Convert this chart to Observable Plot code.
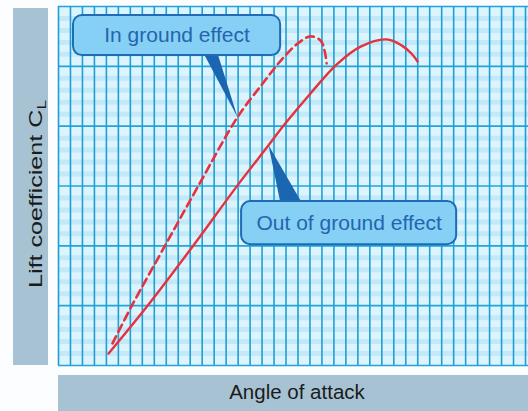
<!DOCTYPE html>
<html>
<head>
<meta charset="utf-8">
<script src="https://cdn.jsdelivr.net/npm/d3@7"></script>
<script src="https://cdn.jsdelivr.net/npm/@observablehq/plot@0.6"></script>
<style>
  html, body { margin: 0; padding: 0; background: #fbfdfe; }
  #chart { position: relative; width: 528px; height: 411px; overflow: hidden;
           font-family: "Liberation Sans", Arial, Helvetica, sans-serif; }
  .band { position: absolute; background: #a7c3d3; }
  .band svg { display: block; overflow: visible; }
  #plot { position: absolute; left: 50px; top: 0; }
</style>
</head>
<body>
<div id="chart">
  <div class="band" style="left:13px;top:8px;width:35px;height:357px">
    <svg width="35" height="357">
      <text transform="translate(28.5,186) rotate(-90)" text-anchor="middle" font-size="19" fill="#1b1b1b"
            textLength="188" lengthAdjust="spacingAndGlyphs">Lift coefficient C<tspan font-size="13" dy="4">L</tspan></text>
    </svg>
  </div>
  <div class="band" style="left:58px;top:375px;width:470px;height:36px">
    <svg width="470" height="36">
      <text x="239" y="24" text-anchor="middle" font-size="20.5" fill="#1b1b1b">Angle of attack</text>
    </svg>
  </div>
  <div id="plot"></div>
</div>
<script>
// Lift curves: angle of attack (grid units) vs lift coefficient (major grid units)
const angleOut = [4.18, 7.52, 11.28, 14.95, 17.54, 18.80, 20.97, 23.22, 25.23, 27.40, 28.65, 29.49, 29.99];
const liftOut  = [0.20, 1.02, 2.01, 3.01, 3.68, 4.01, 4.53, 5.03, 5.33, 5.45, 5.35, 5.21, 5.08];
const angleIn  = [4.51, 6.18, 8.86, 11.70, 14.95, 17.04, 18.71, 19.97, 21.05, 21.89, 22.22, 22.39];
const liftIn   = [0.37, 1.02, 1.99, 3.01, 4.15, 4.71, 5.13, 5.38, 5.50, 5.43, 5.26, 5.05];

const labels = ["In ground effect", "Out of ground effect"];

const outGround = angleOut.map((a, i) => ({angle: a, cl: liftOut[i]}));
const inGround = angleIn.map((a, i) => ({angle: a, cl: liftIn[i]}));

// Callout boxes with a pointer whose tip sits on a point of its curve
const callouts = [
  {label: labels[0], x1: 1.25, x2: 18.55, y1: 5.18, y2: 5.85, baseL: 12.11, baseR: 13.28, base: 5.22, tip: inGround[4]},
  {label: labels[1], x1: 15.29, x2: 33.25, y1: 2.02, y2: 2.74, baseL: 18.55, baseR: 20.38, base: 2.70, tip: outGround[4]}
];
const pointers = callouts.flatMap((c, k) => [
  {k, angle: c.baseL, cl: c.base},
  {k, angle: c.tip.angle, cl: c.tip.cl},
  {k, angle: c.baseR, cl: c.base}
]);

const minor = d3.range(0, 30).map(i => i / 5).filter(v => v % 1 !== 0);

const chart = Plot.plot({
  width: 478,
  height: 368,
  marginLeft: 8,
  marginRight: 0,
  marginTop: 6,
  marginBottom: 3,
  x: {domain: [0, 39.25], axis: null},
  y: {domain: [0, 6], axis: null},
  style: {background: "transparent", overflow: "visible"},
  marks: [
    Plot.frame({fill: "#dcf4fd", stroke: "none"}),
    Plot.ruleY(minor, {stroke: "#c3e8f8", strokeWidth: 5}),
    Plot.ruleY(d3.range(0, 7), {stroke: "#22a4d8", strokeWidth: 1.6}),
    Plot.ruleX(d3.range(0, 40), {stroke: "#1f9fd6", strokeWidth: 1.6}),
    Plot.line(inGround, {x: "angle", y: "cl", curve: "catmull-rom", stroke: "#e6323c",
                         strokeWidth: 2.6, strokeDasharray: "8,5"}),
    Plot.line(outGround, {x: "angle", y: "cl", curve: "catmull-rom", stroke: "#e6323c", strokeWidth: 2.4}),
    Plot.line(pointers, {x: "angle", y: "cl", z: "k", curve: "linear-closed", fill: "#1a66b0", stroke: "none"}),
    Plot.rect(callouts, {x1: "x1", x2: "x2", y1: "y1", y2: "y2", rx: 9,
                         fill: "#86d0f6", stroke: "#1e6db4", strokeWidth: 2}),
    Plot.text(callouts, {x: d => (d.x1 + d.x2) / 2, y: d => (d.y1 + d.y2) / 2, text: "label",
                         fontSize: 21, fill: "#2465ad", fontFamily: "Liberation Sans, Arial, sans-serif"})
  ]
});
document.getElementById("plot").append(chart);
</script>
</body>
</html>
